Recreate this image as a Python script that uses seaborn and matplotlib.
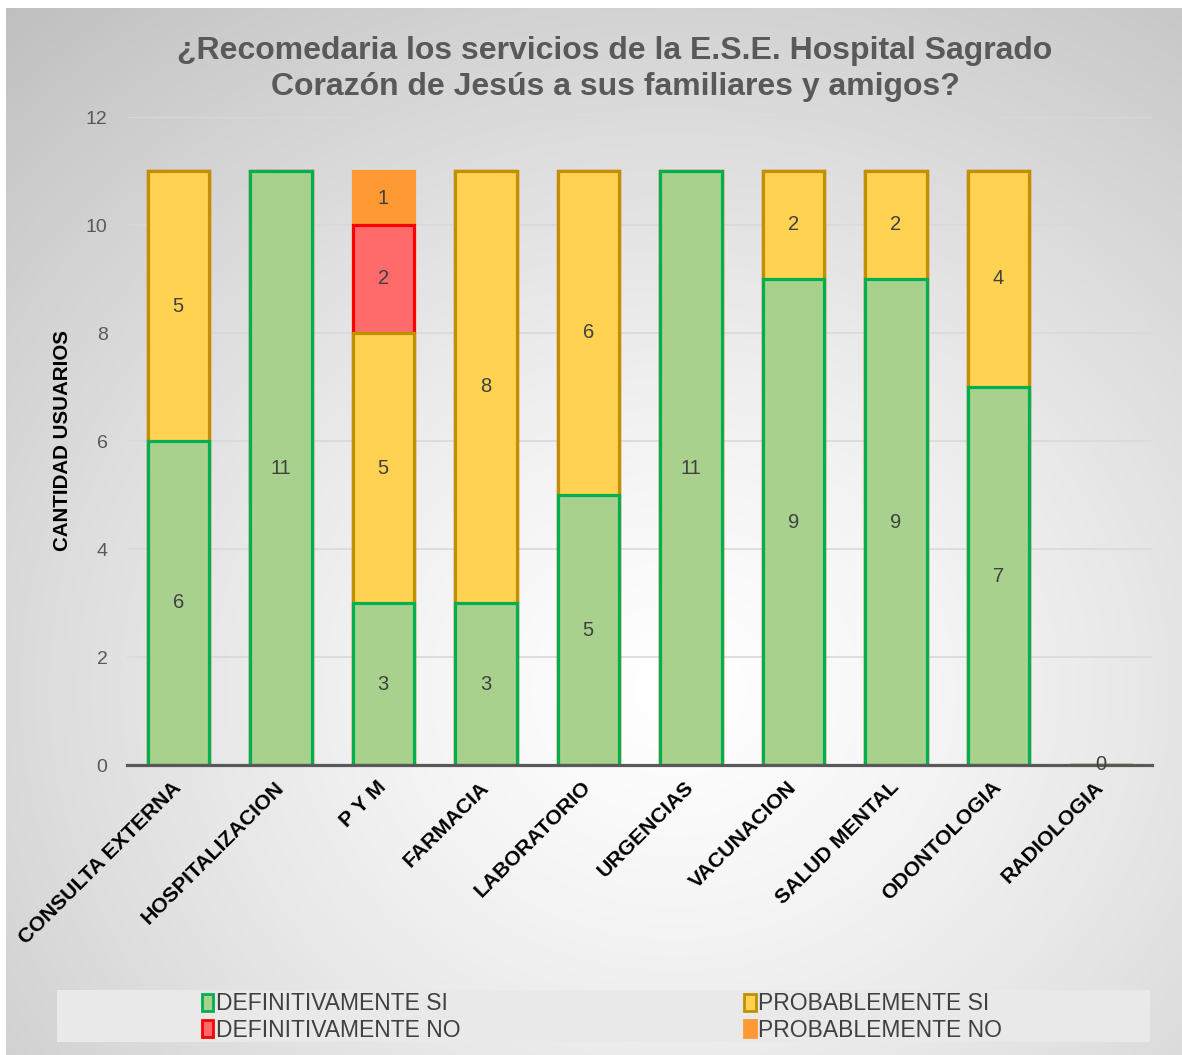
import numpy as np
import matplotlib
matplotlib.use("Agg")
import matplotlib.pyplot as plt
from matplotlib.patches import Patch, Rectangle
import seaborn as sns

categories = ["CONSULTA EXTERNA", "HOSPITALIZACION", "P Y M", "FARMACIA", "LABORATORIO",
              "URGENCIAS", "VACUNACION", "SALUD MENTAL", "ODONTOLOGIA", "RADIOLOGIA"]
def_si = [6, 11, 3, 3, 5, 11, 9, 9, 7, 0]
prob_si = [5, 0, 5, 8, 6, 0, 2, 2, 4, 0]
def_no = [0, 0, 2, 0, 0, 0, 0, 0, 0, 0]
prob_no = [0, 0, 1, 0, 0, 0, 0, 0, 0, 0]
series_names = ["DEFINITIVAMENTE SI", "PROBABLEMENTE SI", "DEFINITIVAMENTE NO", "PROBABLEMENTE NO"]
y_ticks = [0, 2, 4, 6, 8, 10, 12]

sns.set_theme(style="white")
plt.rcParams["font.family"] = ["Liberation Sans", "DejaVu Sans"]

W, H = 1182, 1055
fig = plt.figure(figsize=(W / 100, H / 100), dpi=100)
fig.patch.set_facecolor("white")

# radial gradient background
bg = fig.add_axes([6 / W, 0, 1 - 6 / W, 1 - 8 / H])
yy, xx = np.mgrid[0:400, 0:440]
cx, cy = 250, 260
d = np.sqrt(((xx - cx) / 440.0) ** 2 + ((yy - cy) / 400.0) ** 2)
d = d / d.max()
v = 1.0 - 0.25 * d ** 1.3
bg.imshow(np.dstack([v, v, v]), aspect="auto", extent=[0, 1, 0, 1], origin="upper")
bg.set_axis_off()

ax = fig.add_axes([127 / W, 1 - 765 / H, (1152 - 127) / W, (765 - 117) / H])
ax.set_facecolor("none")

cum1 = np.array(def_si)
cum2 = cum1 + np.array(prob_si)
cum3 = cum2 + np.array(def_no)
cum4 = cum3 + np.array(prob_no)

styles = [
    ("#A9D18E", "#00B050"),
    ("#FFD351", "#BF9000"),
    ("#FF6B6B", "#FF0000"),
    ("#FF9933", "#FF9933"),
]
lw = 2.3
bw = 0.6
for cum, (fc, ec) in zip([cum4, cum3, cum2, cum1], styles[::-1]):
    sns.barplot(x=categories, y=cum, order=categories, color=fc, edgecolor=ec,
                linewidth=lw, width=bw, saturation=1, ax=ax, zorder=3)

# value labels
lab_kw = dict(ha="center", va="center", fontsize=14.5, color="#404040", zorder=5)
bottoms = np.zeros(len(categories))
for vals in [def_si, prob_si, def_no, prob_no]:
    for i, val in enumerate(vals):
        if val > 0:
            ax.text(i, bottoms[i] + val / 2, str(val), **lab_kw)
    bottoms = bottoms + np.array(vals)
for i, val in enumerate(def_si):
    if cum4[i] == 0:
        ax.text(i, 0, str(val), **lab_kw)

ax.set_xlim(-0.5, len(categories) - 0.5)
ax.set_ylim(0, 12)
ax.set_yticks(y_ticks)
ax.set_yticklabels([str(t) for t in y_ticks], fontsize=14, color="#595959")
ax.yaxis.grid(True, color="#D9D9D9", linewidth=1.2, zorder=0)
ax.set_axisbelow(True)
for s in ["top", "right", "left"]:
    ax.spines[s].set_visible(False)
ax.spines["bottom"].set_color("#595959")
ax.spines["bottom"].set_linewidth(2.3)
ax.spines["bottom"].set_zorder(4)
ax.tick_params(axis="y", length=0, pad=14)
ax.set_xticks(range(len(categories)))
ax.set_xticklabels(categories, rotation=45, ha="right", rotation_mode="anchor",
                   fontsize=15.3, fontweight="bold", color="black")
ax.tick_params(axis="x", length=0, pad=14)
for lbl in ax.get_xticklabels():
    lbl.set_verticalalignment("center")
ax.set_xlabel("")
ax.set_ylabel("CANTIDAD USUARIOS", fontsize=14.8, fontweight="bold", color="black", labelpad=10)

fig.text(615 / W, 1 - 69 / H,
         "¿Recomedaria los servicios de la E.S.E. Hospital Sagrado\nCorazón de Jesús a sus familiares y amigos?",
         ha="center", va="center", fontsize=23, fontweight="bold", color="#595959", linespacing=1.22)

# legend box
fig.patches.append(Rectangle((57 / W, 1 - 1042 / H), (1150 - 57) / W, 52 / H,
                             transform=fig.transFigure, facecolor="#E9E9E9", edgecolor="none", zorder=1))
handles = [Patch(facecolor=fc, edgecolor=ec, linewidth=2) for fc, ec in styles]
order = [0, 2, 1, 3]
leg = fig.legend([handles[i] for i in order], [series_names[i] for i in order],
                 ncol=2, loc="center left", bbox_to_anchor=(188 / W, 1 - 1017 / H),
                 frameon=False, fontsize=16.5, handlelength=0.5, handleheight=0.75,
                 handletextpad=0.1, columnspacing=12.4, labelspacing=0.14,
                 borderpad=0.1)
for t in leg.get_texts():
    t.set_color("#404040")

fig.savefig("out.png", dpi=100)
